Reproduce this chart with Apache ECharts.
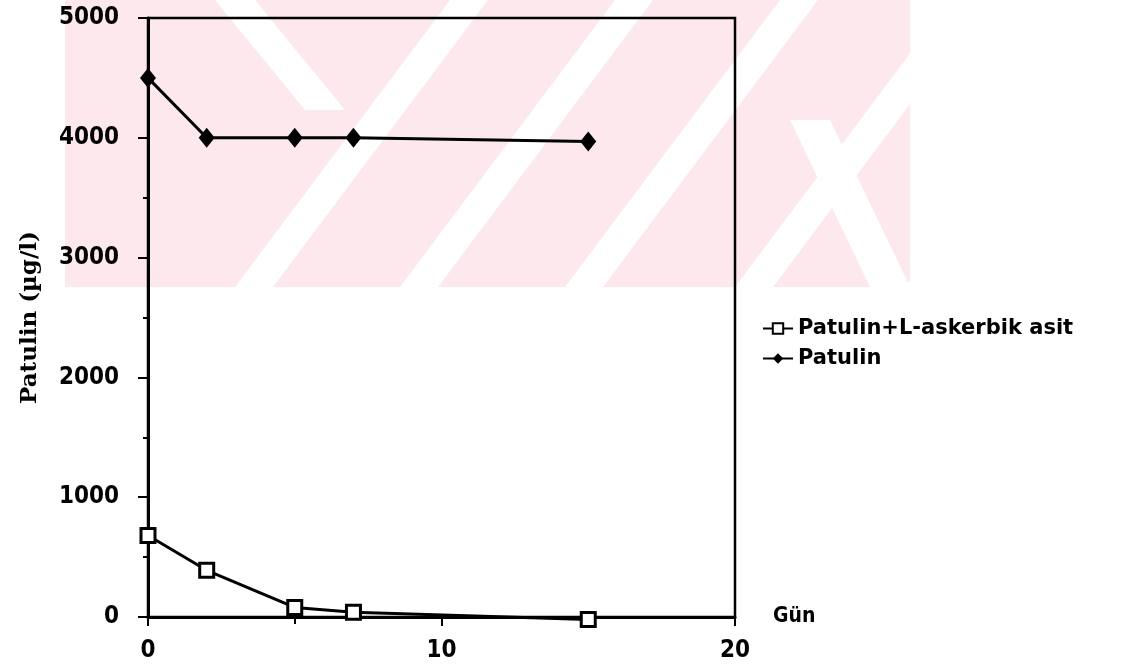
<!DOCTYPE html>
<html>
<head>
<meta charset="utf-8">
<script src="https://cdn.jsdelivr.net/npm/echarts@6/dist/echarts.min.js"></script>
<style>
  html, body { margin: 0; padding: 0; background: #fff; }
  #chart { width: 1136px; height: 670px; }
</style>
</head>
<body>
<div id="chart"></div>
<script>
// data
var days = [0, 2, 5, 7, 15];
var withAscorbic = [680, 390, 80, 40, -20];
var patulinOnly = [4500, 4000, 4000, 4000, 3970];
var seriesNames = ['Patulin+L-askerbik asit', 'Patulin'];
var yTicks = [0, 1000, 2000, 3000, 4000, 5000];
var xTicks = [0, 10, 20];

(function() {
    var chart = echarts.init(document.getElementById('chart'));

    var labelFont = 'DejaVu Sans Condensed';

    // faint pink watermark behind the top half
    var pink = '#fde9ed';
    var wm = [{
        type: 'rect', shape: { x: 65, y: 0, width: 845, height: 287 },
        style: { fill: pink }, z: -10, silent: true
    }];
    [235, 400, 565, 735, 905].forEach(function(x0) {
        wm.push({
            type: 'polygon',
            shape: { points: [[x0, 287], [x0 + 38, 287], [x0 + 38 + 215, 0], [x0 + 215, 0]] },
            style: { fill: '#ffffff' }, z: -9, silent: true
        });
    });
    wm.push({
        type: 'polygon',
        shape: { points: [[215, 0], [255, 0], [345, 110], [305, 110]] },
        style: { fill: '#ffffff' }, z: -9, silent: true
    });
    wm.push({
        type: 'polygon',
        shape: { points: [[790, 120], [830, 120], [910, 287], [870, 287]] },
        style: { fill: '#ffffff' }, z: -9, silent: true
    });

    var option = {
        backgroundColor: '#ffffff',
        animation: false,
        textStyle: { color: '#000' },
        graphic: wm,
        grid: {
            left: 148, right: 401, top: 18, bottom: 53,
            show: true, borderColor: '#000', borderWidth: 2.5
        },
        legend: {
            orient: 'vertical',
            left: 757, top: 313,
            itemWidth: 30, itemHeight: 13, itemGap: 9,
            data: seriesNames,
            textStyle: { fontFamily: 'DejaVu Sans', fontWeight: 'bold', fontSize: 21, color: '#000' }
        },
        xAxis: {
            type: 'value',
            min: xTicks[0], max: xTicks[xTicks.length - 1], interval: 10,
            name: 'Gün', nameLocation: 'end', nameGap: 38,
            nameTextStyle: { fontFamily: 'DejaVu Sans Condensed', fontWeight: 'bold', fontSize: 21, color: '#000', verticalAlign: 'middle' },
            axisLine: { lineStyle: { color: '#000', width: 3 } },
            axisTick: { show: true, length: 9, lineStyle: { color: '#000', width: 2 } },
            minorTick: { show: true, splitNumber: 2, length: 7, lineStyle: { color: '#000', width: 2 } },
            axisLabel: { margin: 22, fontFamily: labelFont, fontWeight: 'bold', fontSize: 24, color: '#000' },
            splitLine: { show: false }
        },
        yAxis: {
            type: 'value',
            min: yTicks[0], max: yTicks[yTicks.length - 1], interval: 1000,
            name: 'Patulin (µg/l)', nameLocation: 'middle', nameGap: 106,
            nameTextStyle: { fontFamily: 'DejaVu Serif', fontWeight: 'bold', fontSize: 23, color: '#000' },
            axisLine: { show: true, lineStyle: { color: '#000', width: 3 } },
            axisTick: { show: true, length: 10, lineStyle: { color: '#000', width: 2 } },
            minorTick: { show: true, splitNumber: 2, length: 5, lineStyle: { color: '#000', width: 2 } },
            axisLabel: {
                margin: 29, fontFamily: labelFont, fontWeight: 'bold', fontSize: 24, color: '#000',
                formatter: function(v) { return String(v); }
            },
            splitLine: { show: false }
        },
        series: [{
            name: seriesNames[0],
            type: 'line',
            clip: false,
            data: days.map(function(d, i) { return [d, withAscorbic[i]]; }),
            symbol: 'rect', symbolSize: 14,
            lineStyle: { color: '#000', width: 3 },
            itemStyle: { color: '#fff', borderColor: '#000', borderWidth: 3 }
        }, {
            name: seriesNames[1],
            type: 'line',
            clip: false,
            data: days.map(function(d, i) { return [d, patulinOnly[i]]; }),
            symbol: 'diamond', symbolSize: [16, 20],
            lineStyle: { color: '#000', width: 3 },
            itemStyle: { color: '#000' }
        }]
    };

    chart.setOption(option);

    window.onresize = function() {
        chart.resize();
    };
})();
</script>
</body>
</html>
